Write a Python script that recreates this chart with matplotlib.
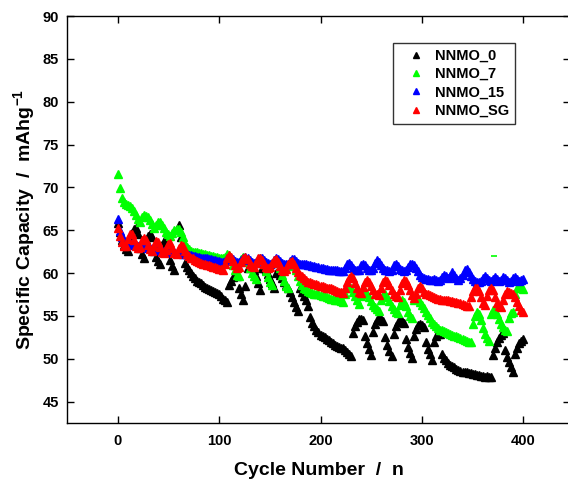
import numpy as np
import matplotlib
matplotlib.use("Agg")
import matplotlib.pyplot as plt

# cycle number of every plotted point (every 2nd cycle)
cycles = np.arange(0, 401, 2)

# specific capacity (mAh/g)
nnmo_0 = [
    65.8, 64.8, 63.9, 63.3, 62.8, 62.6, 64.2, 64.7, 65.1, 65.3,
    64.6, 62.9, 62.2, 61.8, 63.9, 64.3, 64.5, 64.2, 62.6, 61.9,
    61.4, 61.0, 63.3, 63.7, 63.6, 63.1, 61.5, 60.8, 60.4, 65.0,
    65.6, 64.2, 62.5, 61.2, 60.7, 60.4, 60.0, 59.7, 59.4, 59.1,
    58.9, 58.8, 58.6, 58.4, 58.3, 58.1, 58.0, 57.9, 57.8, 57.7,
    57.5, 57.3, 57.0, 56.8, 56.6, 58.6, 59.1, 59.5, 59.8, 59.6,
    58.2, 57.5, 56.9, 58.5, 60.6, 60.9, 60.8, 60.4, 59.6, 58.8,
    58.0, 60.6, 60.6, 60.4, 59.9, 59.3, 58.8, 58.3, 60.0, 60.1,
    59.8, 59.4, 59.0, 58.6, 58.2, 57.8, 57.2, 56.6, 56.0, 55.6,
    58.3, 57.8, 57.3, 56.8, 56.2, 54.9, 54.2, 53.8, 53.4, 53.1,
    52.8, 52.6, 52.5, 52.3, 52.2, 52.0, 51.8, 51.6, 51.5, 51.4,
    51.3, 51.2, 51.0, 50.8, 50.5, 50.3, 53.0, 53.8, 54.3, 54.6,
    54.6, 54.5, 52.6, 51.8, 51.1, 50.4, 53.1, 54.0, 54.5, 54.7,
    54.6, 54.4, 52.5, 51.6, 50.9, 50.3, 52.9, 53.8, 54.3, 54.5,
    54.4, 54.2, 52.3, 51.4, 50.7, 50.1, 52.7, 53.5, 53.9, 54.0,
    53.9, 53.7, 51.9, 51.1, 50.5, 49.9, 52.0, 52.6, 52.9, 52.9,
    50.6, 50.1, 49.8, 49.5, 49.3, 49.1, 49.0, 48.8, 48.7, 48.6,
    48.5, 48.5, 48.4, 48.3, 48.3, 48.2, 48.2, 48.1, 48.1, 48.0,
    48.0, 47.9, 48.0, 47.9, 47.9, 50.4, 51.2, 51.9, 52.4, 52.8,
    53.0, 51.0, 50.2, 49.6, 49.0, 48.5, 50.6, 51.3, 51.8, 52.1,
    52.3,
]

nnmo_7 = [
    71.6, 69.9, 68.8, 68.3, 68.1, 67.9, 67.8, 67.6, 67.3, 66.8,
    66.3, 66.0, 66.5, 66.8, 66.7, 66.5, 66.2, 65.7, 65.2, 65.6,
    66.0, 65.9, 65.6, 65.2, 64.8, 64.5, 64.3, 64.7, 65.0, 65.1,
    65.1, 64.8, 64.2, 63.4, 63.0, 62.8, 62.6, 62.5, 62.4, 62.4,
    62.3, 62.3, 62.2, 62.2, 62.1, 62.1, 62.0, 62.0, 61.9, 61.9,
    61.8, 61.8, 61.7, 61.9, 62.2, 62.1, 61.6, 60.9, 60.3, 59.8,
    59.6, 61.6, 61.9, 61.8, 61.3, 60.6, 60.0, 59.6, 59.3, 61.5,
    61.8, 61.6, 61.0, 60.2, 59.5, 59.0, 58.6, 61.2, 61.5, 61.3,
    60.6, 59.8, 59.1, 58.5, 58.2, 60.8, 61.2, 61.0, 60.3, 59.6,
    59.1, 58.6, 58.3, 58.1, 57.9, 57.8, 57.7, 57.6, 57.5, 57.5,
    57.4, 57.3, 57.3, 57.2, 57.1, 57.0, 57.0, 56.9, 56.8, 56.8,
    56.7, 56.6, 57.6, 58.2, 58.4, 58.2, 57.8, 57.3, 56.8, 56.4,
    57.3, 57.8, 57.9, 57.6, 57.2, 56.7, 56.3, 56.0, 55.8, 55.6,
    56.8, 57.4, 57.5, 57.2, 56.7, 56.2, 55.8, 55.5, 55.3, 56.3,
    56.8, 56.6, 56.1, 55.5, 55.0, 54.7, 56.8, 57.2, 57.0, 56.6,
    56.3, 55.9, 55.5, 55.1, 54.7, 54.3, 54.0, 53.8, 53.6, 53.4,
    53.3, 53.2, 53.1, 53.0, 52.9, 52.8, 52.7, 52.6, 52.5, 52.4,
    52.3, 52.2, 52.1, 52.0, 51.9, 54.0, 55.0, 55.4, 55.2, 54.5,
    53.6, 52.9, 52.4, 52.1, 55.2, 55.7, 55.6, 55.2, 54.6, 54.1,
    53.7, 53.4, 53.2, 54.8, 55.3, 55.5, 57.6, 58.3, 58.5, 58.3,
    58.1,
]

nnmo_15 = [
    66.3, 64.9, 64.2, 63.8, 63.6, 63.5, 63.5, 63.4, 63.3, 63.3,
    63.2, 63.1, 63.1, 63.0, 63.0, 62.9, 62.9, 62.8, 62.8, 62.7,
    62.7, 62.7, 62.6, 62.6, 62.5, 62.5, 62.4, 62.4, 62.4, 62.3,
    62.3, 62.3, 62.2, 62.2, 62.2, 62.1, 62.1, 62.0, 62.0, 61.9,
    61.9, 61.8, 61.8, 61.7, 61.7, 61.6, 61.6, 61.5, 61.5, 61.4,
    61.4, 61.3, 61.3, 61.4, 61.7, 61.9, 61.8, 61.6, 61.4, 61.3,
    61.3, 61.5, 61.8, 61.9, 61.7, 61.5, 61.3, 61.2, 61.3, 61.6,
    61.8, 61.7, 61.5, 61.3, 61.2, 61.1, 61.2, 61.5, 61.7, 61.6,
    61.4, 61.2, 61.1, 61.0, 61.1, 61.4, 61.6, 61.6, 61.4, 61.2,
    61.1, 61.0, 61.0, 61.0, 60.9, 60.9, 60.8, 60.8, 60.7, 60.7,
    60.6, 60.6, 60.5, 60.5, 60.4, 60.4, 60.3, 60.3, 60.3, 60.2,
    60.2, 60.2, 60.6, 61.1, 61.2, 60.9, 60.6, 60.4, 60.3, 60.4,
    60.9, 61.1, 60.9, 60.6, 60.4, 60.3, 60.6, 61.2, 61.5, 61.3,
    60.9, 60.6, 60.4, 60.3, 60.2, 60.4, 60.9, 61.1, 60.8, 60.5,
    60.3, 60.2, 60.3, 60.7, 61.0, 61.1, 60.9, 60.6, 60.2, 59.8,
    59.5, 59.4, 59.3, 59.3, 59.2, 59.2, 59.3, 59.2, 59.1, 59.2,
    59.5, 59.8, 59.6, 59.4, 59.7, 60.1, 59.8, 59.4, 59.2, 59.4,
    59.8, 60.3, 60.5, 60.1, 59.6, 59.3, 59.1, 59.0, 59.0, 59.1,
    59.4, 59.6, 59.4, 59.2, 59.1, 59.3, 59.5, 59.3, 59.1, 59.2,
    59.5, 59.4, 59.2, 59.0, 59.1, 59.4, 59.5, 59.3, 59.1, 59.2,
    59.3,
]

nnmo_sg = [
    65.2, 64.3, 63.6, 63.2, 63.2, 64.0, 64.6, 64.5, 63.9, 63.2,
    62.9, 63.0, 63.8, 64.1, 63.9, 63.3, 62.8, 62.6, 63.2, 63.7,
    63.6, 63.0, 62.5, 62.3, 62.7, 63.4, 63.5, 62.9, 62.3, 62.2,
    62.9, 63.3, 63.1, 62.6, 62.2, 62.0, 61.8, 61.7, 61.5, 61.4,
    61.3, 61.2, 61.1, 61.0, 60.9, 60.9, 60.8, 60.7, 60.7, 60.6,
    60.5, 60.5, 60.4, 61.0, 61.8, 62.1, 61.9, 61.4, 60.9, 60.6,
    60.7, 61.3, 61.8, 61.9, 61.6, 61.1, 60.8, 60.7, 61.2, 61.7,
    61.8, 61.5, 61.0, 60.7, 60.6, 60.7, 61.2, 61.5, 61.6, 61.3,
    60.8, 60.4, 60.2, 60.5, 61.0, 61.3, 61.4, 61.1, 60.6, 60.1,
    59.8, 59.6, 59.4, 59.2, 59.0, 58.9, 58.8, 58.7, 58.7, 58.6,
    58.5, 58.5, 58.4, 58.3, 58.3, 58.2, 58.1, 58.0, 57.9, 57.8,
    57.8, 57.7, 58.3, 59.0, 59.4, 59.6, 59.4, 58.8, 58.2, 57.8,
    57.7, 58.4, 59.0, 59.2, 59.0, 58.5, 58.0, 57.6, 57.5, 57.4,
    58.2, 58.9, 59.2, 59.1, 58.6, 58.0, 57.5, 57.3, 57.2, 58.0,
    58.8, 59.2, 59.1, 58.6, 58.0, 57.4, 57.1, 57.5, 58.2, 58.5,
    58.2, 57.8, 57.6, 57.5, 57.4, 57.3, 57.2, 57.1, 57.0, 57.0,
    56.9, 56.9, 56.8, 56.8, 56.7, 56.7, 56.6, 56.6, 56.5, 56.5,
    56.4, 56.3, 56.2, 56.1, 57.2, 57.9, 58.3, 58.3, 57.9, 57.2,
    56.5, 56.3, 57.3, 58.0, 58.3, 58.0, 57.2, 56.5, 56.1, 56.0,
    56.8, 57.5, 57.9, 57.8, 57.7, 57.6, 57.2, 56.6, 56.1, 55.7,
    55.5,
]

# single stray NNMO_7 reading near cycle 370
stray_cycle = [371]
stray_nnmo_7 = [62.0]

series = [
    ("NNMO_0", nnmo_0, "#000000"),
    ("NNMO_7", nnmo_7, "#00FF00"),
    ("NNMO_15", nnmo_15, "#0000FF"),
    ("NNMO_SG", nnmo_sg, "#FF0000"),
]


def main():
    plt.rcParams["font.family"] = "Liberation Sans"
    plt.rcParams["font.weight"] = "bold"
    plt.rcParams["mathtext.fontset"] = "custom"
    plt.rcParams["mathtext.rm"] = "Liberation Sans:bold"
    plt.rcParams["mathtext.bf"] = "Liberation Sans:bold"

    fig = plt.figure(figsize=(5.68, 4.84), dpi=100)
    # right spine sits just past the image edge, as in the original
    ax = fig.add_axes([67 / 568, 61 / 484, 503 / 568, 407 / 484])

    for label, values, color in series:
        ax.plot(cycles, values, linestyle="none", marker="^", ms=5.5,
                color=color, label=label)
    ax.plot(stray_cycle, stray_nnmo_7, linestyle="none", marker="_", ms=4,
            mew=1.2, color="#00FF00")

    ax.set_xlim(-50, 446)
    ax.set_ylim(42.5, 90)
    ax.set_xticks([0, 100, 200, 300, 400])
    ax.set_yticks(np.arange(45, 91, 5))
    ax.tick_params(direction="in", top=True, right=True, length=5, width=1,
                   labelsize=10.5)
    ax.tick_params(axis="x", pad=8)
    ax.tick_params(axis="y", pad=6)
    for spine in ax.spines.values():
        spine.set_linewidth(1.0)

    ax.set_xlabel("Cycle Number  /  n", fontsize=14, fontweight="bold", labelpad=10)
    ax.set_ylabel("Specific Capacity  /  mAhg$^{-1}$", fontsize=14,
                  fontweight="bold", labelpad=3)

    leg = ax.legend(loc="upper left", bbox_to_anchor=(0.648, 0.934), borderaxespad=0,
                    fontsize=10.5, numpoints=1, markerscale=0.75, handlelength=2.4,
                    handletextpad=0.1, labelspacing=0.3, fancybox=False,
                    framealpha=1, borderpad=0.4)
    leg.get_frame().set_edgecolor("#333333")
    leg.get_frame().set_linewidth(1.0)

    fig.savefig("out.png", dpi=100)


if __name__ == "__main__":
    main()
